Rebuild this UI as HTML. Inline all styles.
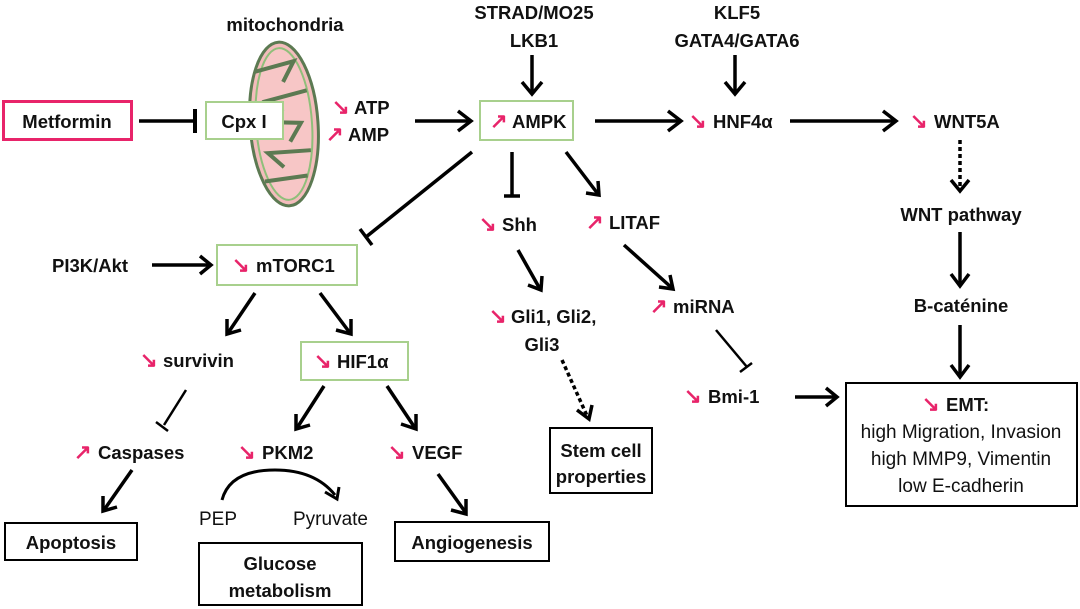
<!DOCTYPE html>
<html><head><meta charset="utf-8"><style>
html,body{margin:0;padding:0;background:#fff;}
svg{display:block}
text{font-family:"Liberation Sans",sans-serif;font-size:18.5px;font-weight:bold;fill:#111;}
.n{font-weight:normal;font-size:19px}
.p{fill:#e8246a;font-weight:bold;font-size:21px}
</style></head><body>
<svg width="1080" height="609" viewBox="0 0 1080 609">
<!-- mitochondria -->
<g transform="rotate(-4 284 124)">
<ellipse cx="284" cy="124" rx="34" ry="82" fill="#f4bcbc" stroke="#5c7a52" stroke-width="3"/>
<ellipse cx="284" cy="124" rx="28" ry="76" fill="#f7c6c6" stroke="#8fbf7a" stroke-width="2"/>
<g stroke="#5c7a52" stroke-width="4" fill="none">
<path d="M258 70 L298 62 L286 82"/>
<path d="M309 92 L268 100 L284 112"/>
<path d="M258 120 L301 124 L289 142"/>
<path d="M309 152 L266 152 L281 167"/>
<path d="M261 180 L304 177"/>
</g>
</g>
<text x="285" y="31" text-anchor="middle">mitochondria</text>
<!-- boxes -->
<rect x="3.5" y="101.5" width="128" height="38" fill="#fff" stroke="#e8246a" stroke-width="3"/>
<text x="67" y="128" text-anchor="middle" font-size="21">Metformin</text>
<rect x="206" y="102" width="77" height="37" fill="#fff" stroke="#a8d08d" stroke-width="2"/>
<text x="244" y="128" text-anchor="middle">Cpx I</text>
<rect x="480" y="101" width="93" height="39" fill="#fff" stroke="#a8d08d" stroke-width="2"/>
<text x="490" y="128" class="p">↗</text><text x="512" y="128">AMPK</text>
<rect x="217" y="245" width="140" height="40" fill="#fff" stroke="#a8d08d" stroke-width="2"/>
<text x="232" y="272" class="p">↘</text><text x="256" y="272">mTORC1</text>
<rect x="301" y="342" width="107" height="38" fill="#fff" stroke="#a8d08d" stroke-width="2"/>
<text x="314" y="368" class="p">↘</text><text x="337" y="368">HIF1α</text>
<g fill="#fff" stroke="#000" stroke-width="2">
<rect x="5" y="523" width="132" height="37"/>
<rect x="199" y="543" width="163" height="62"/>
<rect x="395" y="522" width="154" height="39"/>
<rect x="550" y="428" width="102" height="65"/>
<rect x="846" y="383" width="231" height="123"/>
</g>
<text x="71" y="549" text-anchor="middle">Apoptosis</text>
<text x="280" y="570" text-anchor="middle">Glucose</text>
<text x="280" y="597" text-anchor="middle">metabolism</text>
<text x="472" y="549" text-anchor="middle">Angiogenesis</text>
<text x="601" y="457" text-anchor="middle">Stem cell</text>
<text x="601" y="483" text-anchor="middle">properties</text>
<text x="922" y="411" class="p">↘</text><text x="946" y="411">EMT:</text>
<text x="961" y="438" text-anchor="middle" class="n">high Migration, Invasion</text>
<text x="961" y="465" text-anchor="middle" class="n">high MMP9, Vimentin</text>
<text x="961" y="492" text-anchor="middle" class="n">low E-cadherin</text>
<!-- labels -->
<text x="332" y="114" class="p">↘</text><text x="354" y="114">ATP</text>
<text x="326" y="141" class="p">↗</text><text x="348" y="141">AMP</text>
<text x="534" y="19" text-anchor="middle">STRAD/MO25</text>
<text x="534" y="47" text-anchor="middle">LKB1</text>
<text x="737" y="19" text-anchor="middle">KLF5</text>
<text x="737" y="47" text-anchor="middle">GATA4/GATA6</text>
<text x="689" y="128" class="p">↘</text><text x="713" y="128">HNF4α</text>
<text x="910" y="128" class="p">↘</text><text x="934" y="128">WNT5A</text>
<text x="961" y="221" text-anchor="middle">WNT pathway</text>
<text x="961" y="312" text-anchor="middle">B-caténine</text>
<text x="479" y="231" class="p">↘</text><text x="502" y="231">Shh</text>
<text x="586" y="229" class="p">↗</text><text x="609" y="229">LITAF</text>
<text x="650" y="313" class="p">↗</text><text x="673" y="313">miRNA</text>
<text x="489" y="323" class="p">↘</text><text x="511" y="323">Gli1, Gli2,</text>
<text x="542" y="351" text-anchor="middle">Gli3</text>
<text x="684" y="403" class="p">↘</text><text x="708" y="403">Bmi-1</text>
<text x="52" y="272">PI3K/Akt</text>
<text x="140" y="367" class="p">↘</text><text x="163" y="367">survivin</text>
<text x="74" y="459" class="p">↗</text><text x="98" y="459">Caspases</text>
<text x="238" y="459" class="p">↘</text><text x="262" y="459">PKM2</text>
<text x="388" y="459" class="p">↘</text><text x="412" y="459">VEGF</text>
<text x="199" y="525" class="n">PEP</text>
<text x="293" y="525" class="n">Pyruvate</text>
<!-- connectors -->
<g stroke="#000" stroke-width="3.5" fill="none" stroke-linejoin="miter">
<line x1="139" y1="121" x2="195" y2="121"/><line x1="195" y1="109" x2="195" y2="133" stroke-width="4"/>
<line x1="415" y1="121" x2="470" y2="121"/><polyline points="458,111 471,121 458,131"/>
<line x1="595" y1="121" x2="680" y2="121"/><polyline points="668,111 681,121 668,131"/>
<line x1="790" y1="121" x2="895" y2="121"/><polyline points="883,111 896,121 883,131"/>
<line x1="532" y1="55" x2="532" y2="93"/><polyline points="522,82 532,94 542,82"/>
<line x1="735" y1="55" x2="735" y2="93"/><polyline points="725,82 735,94 745,82"/>
<line x1="960" y1="140" x2="960" y2="190" stroke-dasharray="4,3"/><polyline points="951,180 960,191 969,180"/>
<line x1="960" y1="232" x2="960" y2="285"/><polyline points="951,274 960,286 969,274"/>
<line x1="960" y1="325" x2="960" y2="376"/><polyline points="951,365 960,377 969,365"/>
<line x1="795" y1="397" x2="836" y2="397"/><polyline points="826,388 837,397 826,406"/>
<line x1="512" y1="152" x2="512" y2="195"/><line x1="504" y1="196" x2="520" y2="196"/>
<line x1="566" y1="152" x2="598" y2="194"/><polyline points="598,181 599,195 586,193"/>
<line x1="472" y1="152" x2="366" y2="237"/><line x1="360" y1="229" x2="372" y2="245"/>
<line x1="152" y1="265" x2="210" y2="265"/><polyline points="200,256 211,265 200,274"/>
<line x1="255" y1="293" x2="228" y2="333"/><polyline points="227,319 227,334 241,330"/>
<line x1="320" y1="293" x2="350" y2="333"/><polyline points="336,330 351,334 351,319"/>
<line x1="324" y1="386" x2="297" y2="428"/><polyline points="296,414 296,429 310,425"/>
<line x1="387" y1="386" x2="415" y2="428"/><polyline points="401,424 416,429 416,414"/>
<line x1="132" y1="470" x2="104" y2="510"/><polyline points="103,496 103,511 117,507"/>
<line x1="438" y1="474" x2="466" y2="513"/><polyline points="451,510 466,514 466,499"/>
<line x1="518" y1="250" x2="540" y2="289"/><polyline points="528,285 541,290 542,276"/>
<line x1="624" y1="245" x2="672" y2="288"/><polyline points="659,287 673,289 670,275"/>
<line x1="562" y1="360" x2="588" y2="418" stroke-dasharray="4,3"/><polyline points="577,410 589,419 592,405"/>
<line x1="186" y1="390" x2="164" y2="425" stroke-width="2.5"/><line x1="156" y1="422" x2="168" y2="431" stroke-width="2.5"/>
<line x1="716" y1="330" x2="747" y2="367" stroke-width="2.5"/><line x1="740" y1="372" x2="752" y2="363" stroke-width="2.5"/>
<path d="M222 500 Q230 470 275 470 Q315 470 335 495" stroke-width="3"/><polyline points="325,492 337,499 339,487" stroke-width="3"/>
</g>
</svg>
</body></html>
